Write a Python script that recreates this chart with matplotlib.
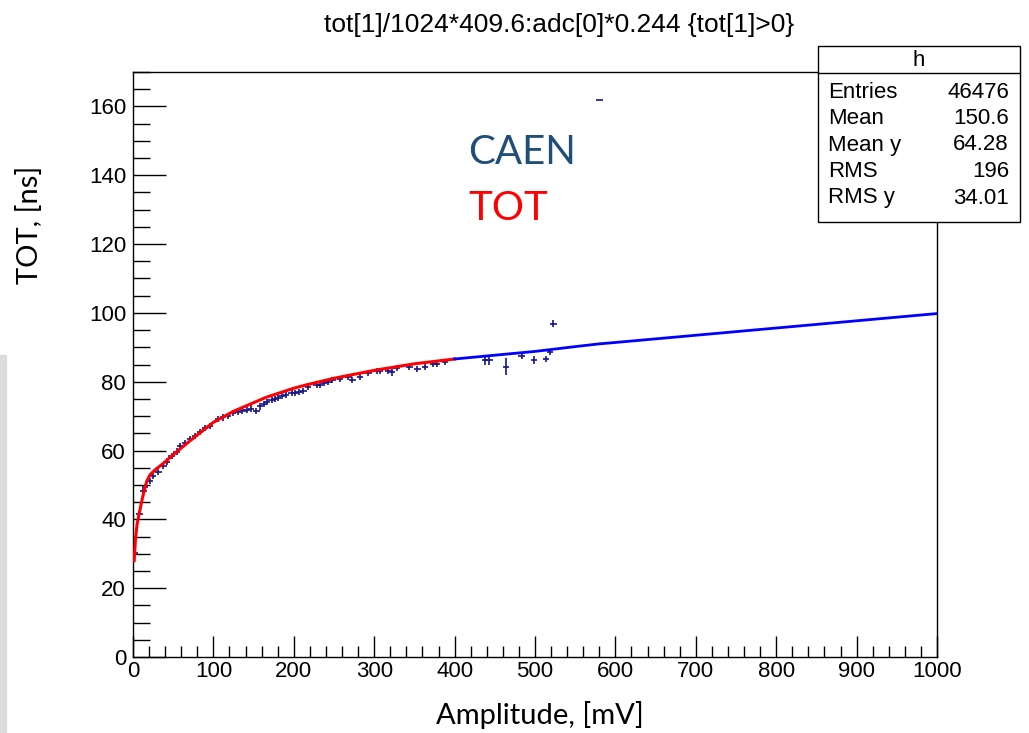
import matplotlib
matplotlib.use('Agg')
import matplotlib.pyplot as plt
from matplotlib.patches import Rectangle
from matplotlib.ticker import MultipleLocator
import numpy as np

plt.rcParams['font.family'] = ['Liberation Sans', 'DejaVu Sans']

# red TOT fit curve (0-400 mV)
red_x = [1.5, 3, 5, 8, 12, 17, 21, 28, 38, 50, 65, 83, 100, 125, 150, 166, 200, 216, 250, 300, 350, 400]
red_y = [28, 34, 38.5, 42, 46.5, 51, 52.9, 54.5, 56.3, 58.8, 61.7, 65.1, 68.2, 71.4, 73.9, 75.5, 78.1, 79.1, 81.0, 83.3, 85.2, 86.6]

# blue CAEN line (400-1000 mV)
blue_x = [400, 450, 500, 550, 580, 600, 700, 800, 900, 1000]
blue_y = [86.6, 87.7, 88.8, 90.2, 91.0, 91.4, 93.5, 95.6, 97.7, 99.8]

# profile points with errors
pts_x = [2, 8, 13, 15, 21, 24.5, 31.5, 37.7, 41.8, 48.1, 54.3, 58.3, 64.7, 70.9, 77.1, 83.3,
         89.6, 95.8, 106, 112.2, 118, 124.6, 130, 136, 141.2, 147, 153.6, 157.9, 163, 167,
         172.5, 176.6, 180, 184.9, 190, 197.3, 201.5, 206, 211.8, 218, 228.4, 232.6, 237.6,
         242.9, 247.9, 257.5, 267.8, 272.8, 282.3, 292.7, 303.1, 307.2, 317.6, 321.8, 328,
         343.7, 353.6, 363.2, 373.5, 377.7, 388, 437.8, 443.2, 464, 483.4, 498.8, 513.7,
         518.7, 522.8, 580]
pts_y = [30.2, 41.6, 48.3, 49.5, 51.2, 52.5, 53.7, 55.4, 56.8, 58.3, 59.7, 61.4, 62.3, 63.3, 64.3, 65.5,
         66.5, 67.2, 69.1, 69.6, 70.0, 70.9, 71.2, 71.5, 71.7, 72.2, 71.6, 72.8, 73.5, 74.0,
         74.6, 75.0, 75.3, 75.9, 76.2, 76.7, 76.7, 77.0, 77.2, 78.4, 79.1, 79.1, 79.6,
         79.9, 80.4, 80.9, 81.4, 80.6, 81.4, 82.5, 83.0, 83.0, 83.0, 82.7, 84.0,
         84.2, 83.8, 84.4, 85.1, 85.1, 85.7, 86.2, 86.2, 84.4, 87.6, 86.4, 86.6,
         88.6, 96.9, 162.0]
pts_yerr = [0.9] * 61 + [1.2, 1.2, 2.4, 1.0, 1.2, 1.0, 0.9, 0.9, 0.0]
pts_xerr = 4.0

stats_names = ['Entries', 'Mean', 'Mean y', 'RMS', 'RMS y']
stats_vals = ['46476', '150.6', '64.28', '196', '34.01']

fig = plt.figure(figsize=(10.29, 7.33), dpi=100)
fig.patches.append(Rectangle((0, 0), 6/1029, 1 - 355/733, transform=fig.transFigure,
                             color='#dcdcdc', zorder=0))
ax = fig.add_axes([133/1029, 1 - 657/733, 804/1029, 585/733])

ax.errorbar(pts_x, pts_y, xerr=pts_xerr, yerr=pts_yerr, fmt='none', ecolor='#14148a',
            elinewidth=1.2, capsize=0, zorder=2)
ax.plot(red_x, red_y, color='#ff0000', lw=2.2, zorder=3)
ax.plot(blue_x, blue_y, color='#0000ff', lw=2.0, zorder=3)

ax.set_xlim(0, 1000)
ax.set_ylim(0, 170)
ax.xaxis.set_major_locator(MultipleLocator(100))
ax.xaxis.set_minor_locator(MultipleLocator(20))
ax.yaxis.set_major_locator(MultipleLocator(20))
ax.yaxis.set_minor_locator(MultipleLocator(5))
ax.tick_params(axis='x', which='major', direction='in', length=15, width=1, labelsize=16, pad=3)
ax.tick_params(axis='x', which='minor', direction='in', length=8, width=1)
ax.tick_params(axis='y', which='major', direction='in', length=24, width=1, labelsize=16, pad=5)
ax.tick_params(axis='y', which='minor', direction='in', length=12, width=1)
for s in ax.spines.values():
    s.set_linewidth(1.0)

fig.text(559/1029, 1 - 25/733, 'tot[1]/1024*409.6:adc[0]*0.244 {tot[1]>0}',
         ha='center', va='center', fontsize=19)

fig.text(30/1029, 1 - 225/733, 'TOT, [ns]', rotation=90, ha='center', va='center',
         fontsize=21, family=['Lato', 'DejaVu Sans'])
fig.text(540/1029, 1 - 715/733, 'Amplitude, [mV]', ha='center', va='center',
         fontsize=21, family=['Lato', 'DejaVu Sans'])

fig.text(468/1029, 1 - 153/733, 'CAEN', color='#1f4e79', ha='left', va='center',
         fontsize=29, family=['Lato', 'DejaVu Sans'])
fig.text(468/1029, 1 - 209/733, 'TOT', color='#ff0000', ha='left', va='center',
         fontsize=29, family=['Lato', 'DejaVu Sans'])

# stats box
bx0, bx1 = 818/1029, 1020/1029
by0, by1, byh = 1 - 222/733, 1 - 46/733, 1 - 73/733
fig.patches.append(Rectangle((bx0, by0), bx1 - bx0, by1 - by0, transform=fig.transFigure,
                             facecolor='white', edgecolor='black', lw=1.0, zorder=5))
fig.add_artist(plt.Line2D([bx0, bx1], [byh, byh], color='black', lw=1.0, zorder=6))
fig.text((bx0 + bx1) / 2, 1 - 60/733, 'h', ha='center', va='center', fontsize=16, zorder=7)
for i, (n, v) in enumerate(zip(stats_names, stats_vals)):
    yy = 1 - (92 + i * 26.5) / 733
    fig.text(828/1029, yy, n, ha='left', va='center', fontsize=16, zorder=7)
    fig.text(1009/1029, yy, v, ha='right', va='center', fontsize=16, zorder=7)

fig.savefig('out.png', dpi=100, facecolor='white')
